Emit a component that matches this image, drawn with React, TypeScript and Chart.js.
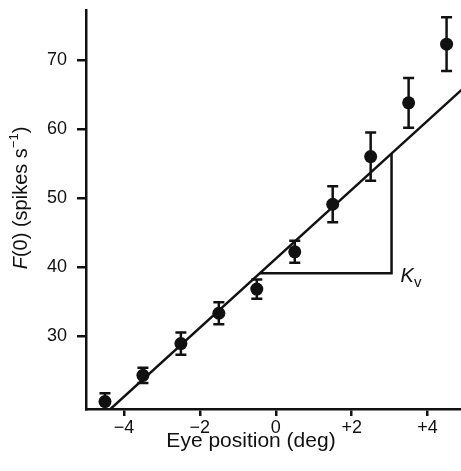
import React, { useEffect, useRef } from "react";
import { Chart, registerables } from "chart.js";

Chart.register(...registerables);

// ---- data ----
const eyePositions = [-4.5, -3.5, -2.5, -1.5, -0.5, 0.5, 1.5, 2.5, 3.5, 4.5];
const firingRates = [20.5, 24.3, 28.9, 33.3, 36.8, 42.2, 49.1, 56.0, 63.8, 72.3];
const errors = [1.2, 1.1, 1.6, 1.6, 1.4, 1.6, 2.6, 3.5, 3.6, 3.9];
const fitSlope = 5.0;
const fitIntercept = 41.2;
const fitRange = [-4.8, 5.2];
const triangleRange = [-0.42, 3.05];
const xTicks = [-4, -2, 0, 2, 4];
const yTicks = [30, 40, 50, 60, 70];
const xLimits = [-5, 4.88];
const yLimits = [19.42, 77.25];

const FONT = "'Liberation Sans', Arial, Helvetica, sans-serif";
const INK = "#111";

const fit = (x: number) => fitIntercept + fitSlope * x;

const errorBarPlugin = {
  id: "errorBars",
  afterDatasetsDraw(chart: any) {
    const { ctx, scales } = chart;
    const xs = scales.x, ys = scales.y;
    ctx.save();
    ctx.strokeStyle = INK;
    ctx.lineWidth = 2.5;
    eyePositions.forEach((x, i) => {
      const px = xs.getPixelForValue(x);
      const top = ys.getPixelForValue(firingRates[i] + errors[i]);
      const bot = Math.min(ys.getPixelForValue(firingRates[i] - errors[i]), chart.chartArea.bottom);
      ctx.beginPath();
      ctx.moveTo(px, top);
      ctx.lineTo(px, bot);
      ctx.moveTo(px - 5.5, top);
      ctx.lineTo(px + 5.5, top);
      if (bot < chart.chartArea.bottom) {
        ctx.moveTo(px - 5.5, bot);
        ctx.lineTo(px + 5.5, bot);
      }
      ctx.stroke();
    });
    ctx.restore();
  },
};

const textPlugin = {
  id: "texts",
  afterDraw(chart: any) {
    const { ctx, scales } = chart;
    ctx.save();
    ctx.fillStyle = INK;
    // K_v label
    const kx = scales.x.getPixelForValue(triangleRange[1]) + 9;
    const ky = scales.y.getPixelForValue(fit(triangleRange[0])) + 9;
    ctx.textBaseline = "alphabetic";
    ctx.textAlign = "left";
    ctx.font = `italic 20px ${FONT}`;
    ctx.fillText("K", kx, ky);
    const kw = ctx.measureText("K").width;
    ctx.font = `15px ${FONT}`;
    ctx.fillText("v", kx + kw, ky + 5);

    // x title
    ctx.font = `21px ${FONT}`;
    ctx.textAlign = "center";
    ctx.textBaseline = "middle";
    ctx.fillText("Eye position (deg)", 251, 441);

    // y title (rotated)
    ctx.translate(21, 198);
    ctx.rotate(-Math.PI / 2);
    const parts = [
      { t: "F", f: `italic 20px ${FONT}`, dy: 0 },
      { t: "(0) (spikes s", f: `20px ${FONT}`, dy: 0 },
      { t: "−1", f: `13px ${FONT}`, dy: -7 },
      { t: ")", f: `20px ${FONT}`, dy: 0 },
    ];
    let total = 0;
    parts.forEach((p) => {
      ctx.font = p.f;
      total += ctx.measureText(p.t).width;
    });
    let x = -total / 2;
    ctx.textAlign = "left";
    ctx.textBaseline = "middle";
    parts.forEach((p) => {
      ctx.font = p.f;
      ctx.fillText(p.t, x, p.dy);
      x += ctx.measureText(p.t).width;
    });
    ctx.restore();
  },
};

export default function App() {
  const ref = useRef<HTMLCanvasElement>(null);
  useEffect(() => {
    if (!ref.current) return;
    const chart = new Chart(ref.current, {
      type: "scatter",
      data: {
        datasets: [
          {
            data: fitRange.map((x) => ({ x, y: fit(x) })),
            showLine: true,
            borderColor: INK,
            borderWidth: 2.5,
            pointRadius: 0,
          },
          {
            data: [
              { x: triangleRange[0], y: fit(triangleRange[0]) },
              { x: triangleRange[1], y: fit(triangleRange[0]) },
              { x: triangleRange[1], y: fit(triangleRange[1]) },
            ],
            showLine: true,
            borderColor: INK,
            borderWidth: 2.5,
            pointRadius: 0,
          },
          {
            data: eyePositions.map((x, i) => ({ x, y: firingRates[i] })),
            pointRadius: 6.5,
            pointBackgroundColor: INK,
            pointBorderColor: INK,
            pointBorderWidth: 0,
            clip: false as any,
          },
        ],
      },
      options: {
        animation: false,
        responsive: false,
        events: [],
        layout: { autoPadding: false, padding: { top: 10, right: 0, left: 0, bottom: 0 } } as any,
        plugins: { legend: { display: false }, tooltip: { enabled: false } },
        scales: {
          x: {
            type: "linear",
            min: xLimits[0],
            max: xLimits[1],
            afterBuildTicks: (s: any) => {
              s.ticks = xTicks.map((v) => ({ value: v }));
            },
            afterFit: (s: any) => {
              s.height = 62;
              s.paddingLeft = 0;
              s.paddingRight = 0;
            },
            border: { display: true, color: INK, width: 2.5 },
            grid: { drawOnChartArea: false, drawTicks: true, tickLength: 7, color: INK, lineWidth: 2.5 },
            ticks: {
              color: INK,
              padding: 1,
              font: { family: FONT, size: 18 },
              callback: (v: any) => (v < 0 ? "−" + Math.abs(v) : v > 0 ? "+" + v : "0"),
            },
          },
          y: {
            type: "linear",
            min: yLimits[0],
            max: yLimits[1],
            afterBuildTicks: (s: any) => {
              s.ticks = yTicks.map((v) => ({ value: v }));
            },
            afterFit: (s: any) => {
              s.width = 86;
              s.paddingTop = 0;
              s.paddingBottom = 0;
            },
            border: { display: true, color: INK, width: 2.5 },
            grid: { drawOnChartArea: false, drawTicks: true, tickLength: 9, color: INK, lineWidth: 2.5 },
            ticks: {
              color: INK,
              padding: 10,
              font: { family: FONT, size: 18 },
            },
          },
        },
      },
      plugins: [errorBarPlugin, textPlugin],
    });
    return () => chart.destroy();
  }, []);
  return (
    <canvas
      ref={ref}
      width={461}
      height={471}
      style={{ position: "absolute", left: 0, top: 0, display: "block" }}
    />
  );
}
